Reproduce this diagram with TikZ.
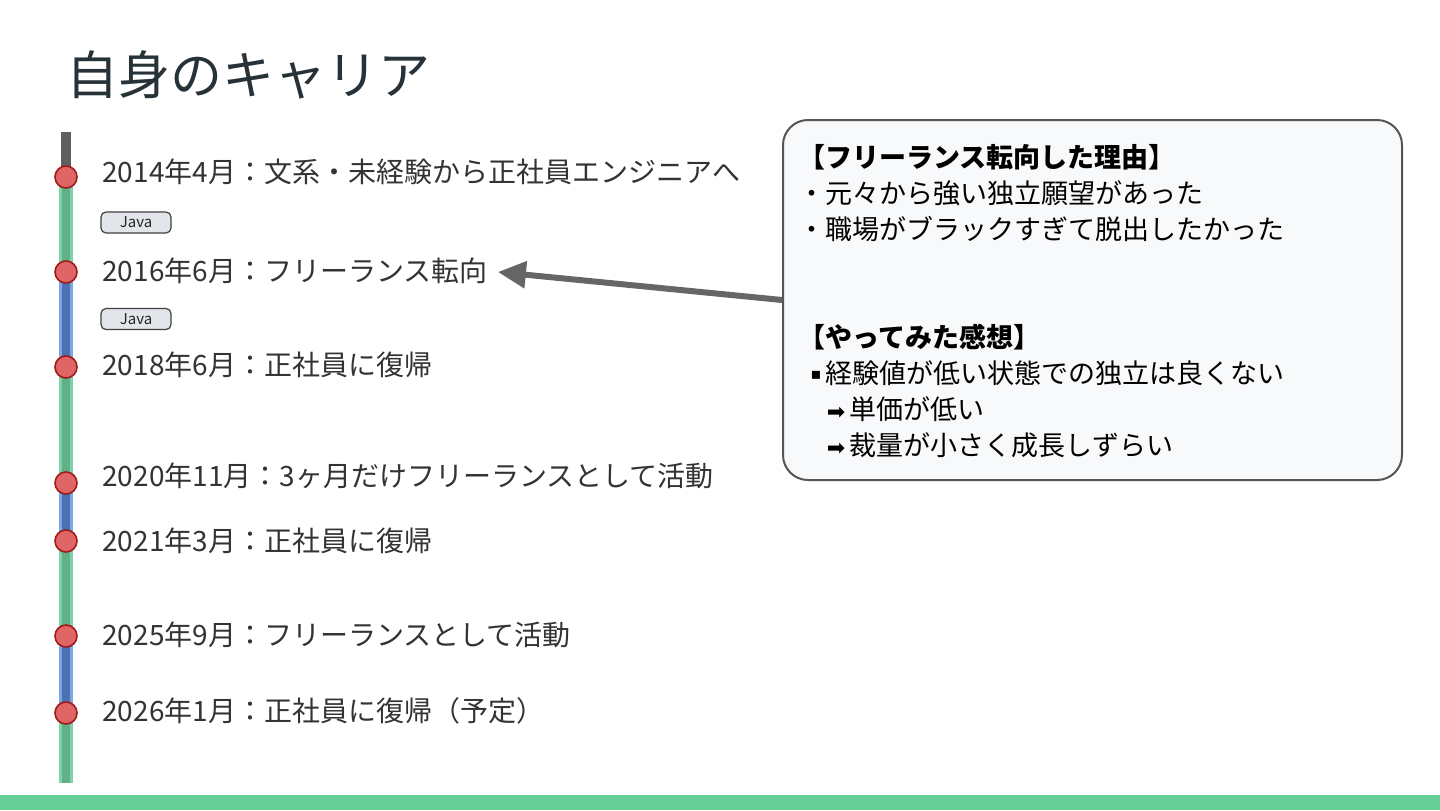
\documentclass[tikz,border=0pt]{standalone}
\usepackage{fontspec}
\setmainfont{Noto Sans CJK JP}
\newfontfamily\symfont{DejaVu Sans}
\usepackage{tikz}
\usetikzlibrary{arrows.meta}
\pgfdeclarelayer{background}
\pgfdeclarelayer{foreground}
\pgfsetlayers{background,main,foreground}

\definecolor{titlecol}{HTML}{263238}
\definecolor{textcol}{HTML}{333333}
\definecolor{greenout}{HTML}{7CD3A6}
\definecolor{greenin}{HTML}{62B088}
\definecolor{blueout}{HTML}{7FA6E3}
\definecolor{bluein}{HTML}{4C70B0}
\definecolor{topgray}{HTML}{5F5F5F}
\definecolor{dotfill}{HTML}{E06666}
\definecolor{dotedge}{HTML}{A11B1B}
\definecolor{barcol}{HTML}{66CF98}
\definecolor{boxfill}{HTML}{F8F9FB}
\definecolor{boxedge}{HTML}{555555}
\definecolor{arrowcol}{HTML}{666666}
\definecolor{tagfill}{HTML}{E2E5E9}

\tikzset{
  event/.style={circle, draw=dotedge, fill=dotfill, line width=0.8pt,
    minimum size=11pt, inner sep=0pt},
  eventlabel/.style={anchor=west, inner sep=0pt, text=textcol,
    font=\fontsize{14}{17}\selectfont},
  javatag/.style={draw=black!75, fill=tagfill, rounded corners=2.5pt,
    line width=0.6pt, minimum width=35pt, minimum height=10.5pt,
    inner sep=0pt, text=black!85, font=\fontsize{7.5}{8}\selectfont},
  greenseg/.style={line width=1.5pt, draw=greenout, double=greenin,
    double distance=4pt},
  blueseg/.style={line width=1.5pt, draw=blueout, double=bluein,
    double distance=4pt},
  reasonbox/.style={draw=boxedge, fill=boxfill, line width=1pt,
    rounded corners=12.5pt, minimum width=309.5pt, minimum height=180pt},
  flowarrow/.style={draw=arrowcol, line width=3pt,
    -{Triangle[length=14pt,width=13pt]}, shorten >=5pt}
}
\newcommand{\rarr}{{\symfont\fontsize{11}{11}\selectfont ➡}}

\begin{document}
\begin{tikzpicture}[x=0.5pt,y=-0.5pt]
\useasboundingbox (0,0) rectangle (1440,810);

\coordinate (LineTop)    at (66,132);
\coordinate (LineBottom) at (66,783);

% title
\node[anchor=west, inner sep=0pt, text=titlecol,
  font=\fontsize{26}{30}\selectfont] (title) at (66,75) {自身のキャリア};

% events on the timeline
\node[event] (p1) at (66,177) {};
\node[event] (p2) at (66,272) {};
\node[event] (p3) at (66,367) {};
\node[event] (p4) at (66,483) {};
\node[event] (p5) at (66,541) {};
\node[event] (p6) at (66,636) {};
\node[event] (p7) at (66,713) {};

\node[eventlabel] (e1) at (102,172) {2014年4月：文系・未経験から正社員エンジニアへ};
\node[eventlabel] (e2) at (102,271) {2016年6月：フリーランス転向};
\node[eventlabel] (e3) at (102,365) {2018年6月：正社員に復帰};
\node[eventlabel] (e4) at (102,476) {2020年11月：3ヶ月だけフリーランスとして活動};
\node[eventlabel] (e5) at (102,541) {2021年3月：正社員に復帰};
\node[eventlabel] (e6) at (102,635) {2025年9月：フリーランスとして活動};
\node[eventlabel] (e7) at (102,711) {2026年1月：正社員に復帰（予定）};

\node[javatag] (tag1) at (136,222.5) {Java};
\node[javatag] (tag2) at (136,319)   {Java};

\begin{pgfonlayer}{background}
  \fill[white] (0,0) rectangle (1440,810);
  \draw[topgray, line width=5pt] (LineTop) -- (p1.center);
  \draw[greenseg] (p1.center) -- (p2.center);
  \draw[blueseg]  (p2.center) -- (p3.center);
  \draw[greenseg] (p3.center) -- (p4.center);
  \draw[blueseg]  (p4.center) -- (p5.center);
  \draw[greenseg] (p5.center) -- (p6.center);
  \draw[blueseg]  (p6.center) -- (p7.center);
  \draw[greenseg] (p7.center) -- (LineBottom);
\end{pgfonlayer}

% callout box
\node[reasonbox] (reason) at (1092.5,300) {};
\node[anchor=north west, inner sep=0pt, align=left, text=black,
  font=\fontsize{13.5}{18}\selectfont] (reasontext) at (798,144)
  {{\bfseries 【フリーランス転向した理由】}\\
   ・元々から強い独立願望があった\\
   ・職場がブラックすぎて脱出したかった\\[36pt]
   {\bfseries 【やってみた感想】}\\
   \hspace*{0.45em}\raisebox{0.15em}{\symfont\footnotesize ▪}\,経験値が低い状態での独立は良くない\\
   \hspace*{1.05em}\rarr\,単価が低い\\
   \hspace*{1.05em}\rarr\,裁量が小さく成長しずらい};

\draw[flowarrow] (reason.west) -- (e2.east);

% bottom bar
\fill[barcol] (0,795) rectangle (1440,810);
\end{tikzpicture}
\end{document}
